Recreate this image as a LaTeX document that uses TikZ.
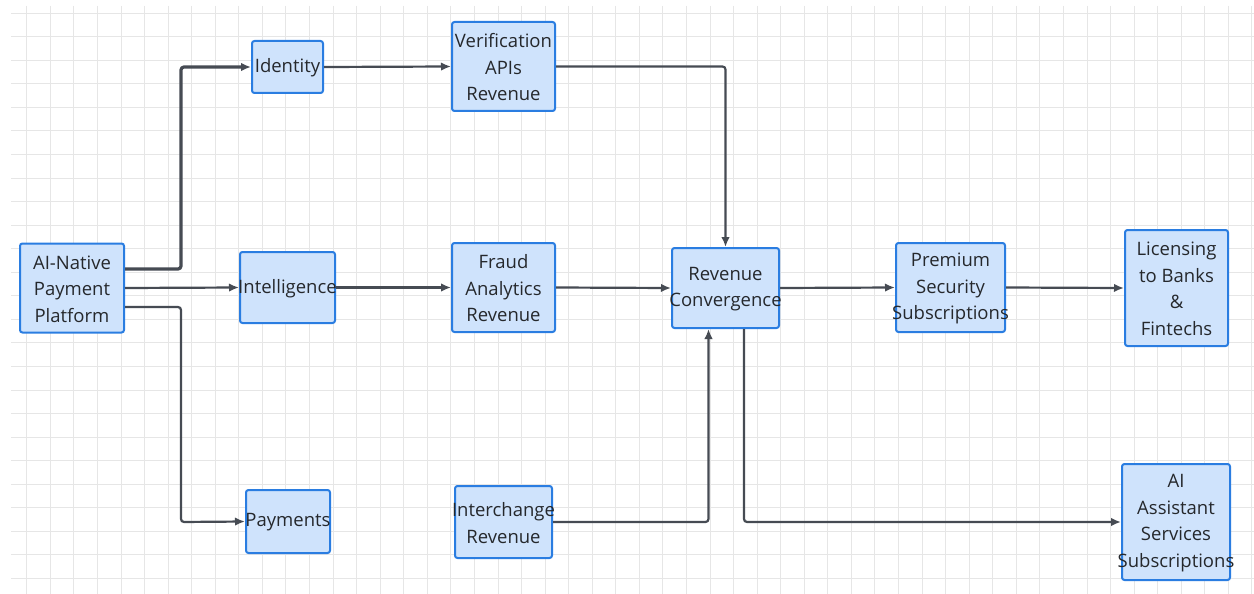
\documentclass[tikz,border=0pt]{standalone}
\usepackage{fontspec}
\setmainfont{Open Sans}
\usetikzlibrary{arrows.meta}
\definecolor{boxfill}{HTML}{CFE3FC}
\definecolor{boxdraw}{HTML}{2A7DE1}
\definecolor{edgec}{HTML}{464B53}
\definecolor{txtc}{HTML}{25282C}
\definecolor{gridc}{HTML}{E6E6E6}
\tikzset{
  box/.style={draw=boxdraw, fill=boxfill, line width=2pt, rounded corners=2.5pt, inner sep=0pt},
  lab/.style={align=center, text=txtc, font=\fontsize{18.5}{26.5}\selectfont, inner sep=0pt, yshift=-1pt},
  conn/.style={draw=edgec, line width=2.2pt, rounded corners=3pt, -{Latex[length=10pt,width=8.5pt]}},
}
\begin{document}
\begin{tikzpicture}[x=1pt,y=-1pt]
\useasboundingbox (0,0) rectangle (1254,594);
\fill[white] (0,0) rectangle (1254,594);
% grid
\foreach \i in {0,...,24} {
  \draw[gridc, line width=0.8pt] (11,{13+\i*23.56}) -- (1254,{13+\i*23.56});
}
\foreach \i in {0,...,52} {
  \draw[gridc, line width=0.8pt] ({26.7+\i*23.56},6) -- ({26.7+\i*23.56},594);
}
% boxes
\node[box, minimum width=104, minimum height=89] (ai) at (72,288) {};
\node[lab] at (ai) {AI-Native\\Payment\\Platform};
\node[box, minimum width=71, minimum height=52] (id) at (287.5,67) {};
\node[lab] at (id) {Identity};
\node[box, minimum width=103, minimum height=89] (ver) at (503.5,66.5) {};
\node[lab] at (ver) {Verification\\APIs\\Revenue};
\node[box, minimum width=95, minimum height=71] (intel) at (287.5,287.5) {};
\node[lab] at (intel) {Intelligence};
\node[box, minimum width=103, minimum height=89] (fraud) at (503.5,287.5) {};
\node[lab] at (fraud) {Fraud\\Analytics\\Revenue};
\node[box, minimum width=84, minimum height=63] (pay) at (288,521.5) {};
\node[lab] at (pay) {Payments};
\node[box, minimum width=97, minimum height=72] (inter) at (503.5,522) {};
\node[lab] at (inter) {Interchange\\Revenue};
\node[box, minimum width=107, minimum height=80] (conv) at (725.5,288) {};
\node[lab] at (conv) {Revenue\\Convergence};
\node[box, minimum width=109, minimum height=89] (prem) at (950.5,287.5) {};
\node[lab] at (prem) {Premium\\Security\\Subscriptions};
\node[box, minimum width=103, minimum height=116] (lic) at (1176.5,288) {};
\node[lab] at (lic) {Licensing\\to Banks\\\&\\Fintechs};
\node[box, minimum width=108, minimum height=116] (assist) at (1176,522) {};
\node[lab] at (assist) {AI\\Assistant\\Services\\Subscriptions};
% connectors
\draw[conn, line width=3.2pt] ([yshift=19pt]ai.east) -| (181,67) -- (id.west);
\draw[conn] (ai.east) -- (intel.west);
\draw[conn] ([yshift=-19pt]ai.east) -| (181,522) -- (pay.west);
\draw[conn] (id.east) -- (ver.west);
\draw[conn] (intel.east) -- (fraud.west);
\draw[conn] (ver.east) -| (conv.north);
\draw[conn] (fraud.east) -- (conv.west);
\draw[conn] (inter.east) -| ([xshift=-17pt]conv.south);
\draw[conn] (conv.east) -- (prem.west);
\draw[conn] ([xshift=18.5pt]conv.south) |- (assist.west);
\draw[conn] (prem.east) -- (lic.west);
\end{tikzpicture}
\end{document}
